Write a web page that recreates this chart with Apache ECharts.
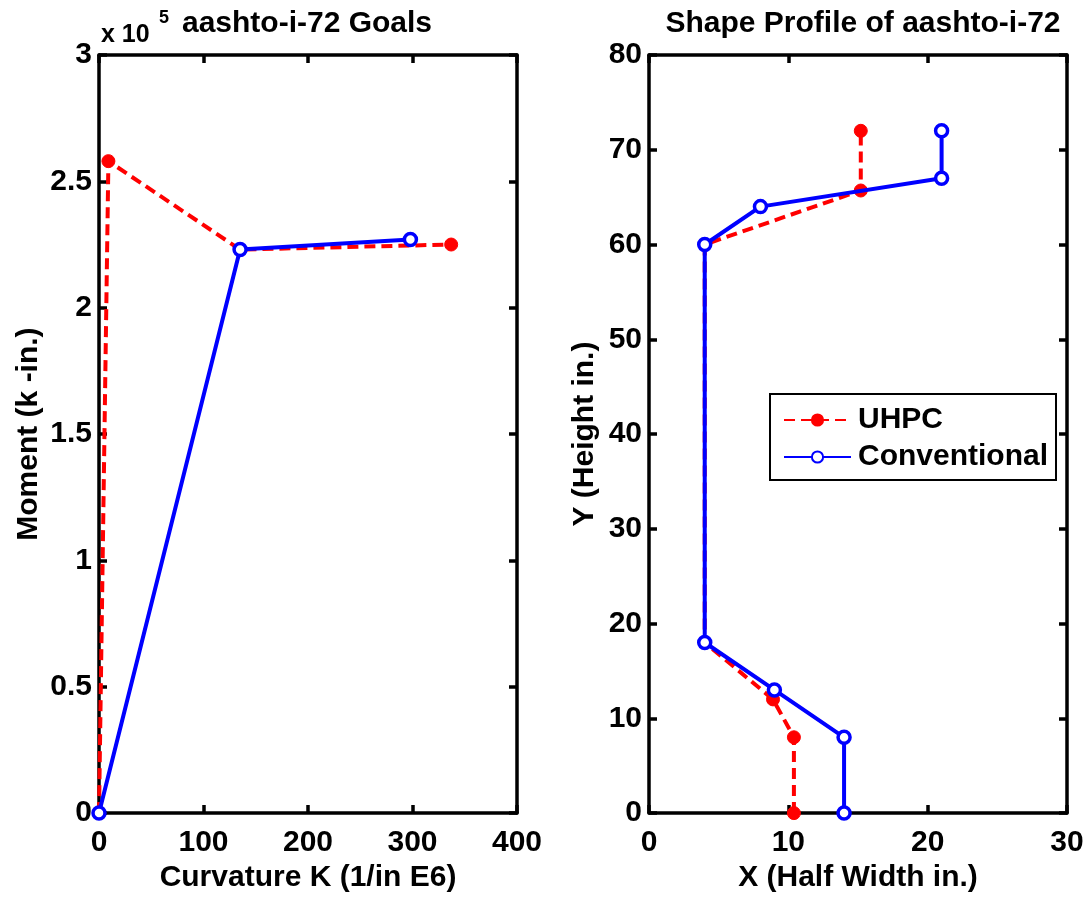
<!DOCTYPE html>
<html>
<head>
<meta charset="utf-8">
<script src="https://cdn.jsdelivr.net/npm/echarts@6/dist/echarts.min.js"></script>
<style>
  html, body { margin: 0; padding: 0; background: #fff; }
  #chart { width: 1091px; height: 898px; }
</style>
</head>
<body>
<div id="chart"></div>
<script>
// Moment-curvature goals (curvature in 1/in E6, moment in k-in.)
const momentUHPC = [[0, 0], [9, 258000], [135, 223000], [337, 225000]];
const momentConventional = [[0, 0], [135, 223000], [298, 227000]];

// Half-width section profile (x half width, y height, inches)
const shapeUHPC = [[10.4, 0], [10.4, 8], [8.9, 12], [4, 18], [4, 60], [15.2, 65.7], [15.2, 72]];
const shapeConventional = [[14, 0], [14, 8], [9, 13], [4, 18], [4, 60], [8, 64], [21, 67], [21, 72]];

const FONT = '"Liberation Sans", Arial, Helvetica, sans-serif';
const FS = 30;
const RED = '#ff0000';
const BLUE = '#0000ff';
const AXW = 3.5;

const chart = echarts.init(document.getElementById('chart'), null, { renderer: 'canvas' });

const labelStyle = { color: '#000', fontFamily: FONT, fontWeight: 'bold', fontSize: FS };

function mainAxis(extra) {
  return Object.assign({
    type: 'value',
    axisLine: { show: true, onZero: false, lineStyle: { color: '#000', width: AXW } },
    axisTick: { show: true, inside: true, length: 8, lineStyle: { color: '#000', width: AXW } },
    splitLine: { show: false },
    nameTextStyle: labelStyle
  }, extra);
}
function mirrorAxis(extra) {
  return Object.assign({
    type: 'value',
    axisLine: { show: true, onZero: false, lineStyle: { color: '#000', width: AXW } },
    axisTick: { show: true, inside: true, length: 8, lineStyle: { color: '#000', width: AXW } },
    axisLabel: { show: false },
    splitLine: { show: false }
  }, extra);
}

const uhpcStyle = {
  type: 'line', name: 'UHPC', clip: false,
  symbol: 'circle', symbolSize: 13,
  lineStyle: { color: RED, width: 4, type: [11, 6] },
  itemStyle: { color: RED, borderColor: RED, borderWidth: 1 },
  z: 2
};
const convStyle = {
  type: 'line', name: 'Conventional', clip: false,
  symbol: 'circle', symbolSize: 12,
  lineStyle: { color: BLUE, width: 4 },
  itemStyle: { color: '#fff', borderColor: BLUE, borderWidth: 3.5 },
  z: 3
};

chart.setOption({
  animation: false,
  backgroundColor: '#fff',
  textStyle: { fontFamily: FONT },
  title: [
    { text: 'aashto-i-72 Goals', left: 302, top: 4, textAlign: 'center',
      textStyle: { fontFamily: FONT, fontWeight: 'bold', fontSize: FS, color: '#000' } },
    { text: 'Shape Profile of aashto-i-72', left: 858, top: 4, textAlign: 'center',
      textStyle: { fontFamily: FONT, fontWeight: 'bold', fontSize: FS, color: '#000' } }
  ],
  graphic: [
    { type: 'text', left: 101, top: 23,
      style: { text: 'x 10', font: 'bold 25px ' + FONT, fill: '#000' } },
    { type: 'text', left: 159, top: 9,
      style: { text: '5', font: 'bold 18px ' + FONT, fill: '#000' } }
  ],
  legend: {
    left: 770, top: 394,
    orient: 'vertical',
    data: ['UHPC', 'Conventional'],
    itemWidth: 67, itemHeight: 14, itemGap: 7,
    padding: [11, 8, 8, 13],
    backgroundColor: '#fff',
    borderColor: '#000', borderWidth: 2, borderRadius: 0,
    textStyle: { fontFamily: FONT, fontWeight: 'bold', fontSize: FS, color: '#000', padding: [0, 0, 0, 2] },
    selectedMode: false
  },
  grid: [
    { left: 99, top: 55, width: 418, height: 762 },
    { left: 649, top: 55, width: 418, height: 762 }
  ],
  xAxis: [
    mainAxis({ gridIndex: 0, min: 0, max: 400, interval: 100, position: 'bottom',
      name: 'Curvature K (1/in E6)', nameLocation: 'middle', nameGap: 49,
      axisLabel: Object.assign({ margin: 15 }, labelStyle) }),
    mainAxis({ gridIndex: 1, min: 0, max: 30, interval: 10, position: 'bottom',
      name: 'X (Half Width in.)', nameLocation: 'middle', nameGap: 49,
      axisLabel: Object.assign({ margin: 15 }, labelStyle) }),
    mirrorAxis({ gridIndex: 0, min: 0, max: 400, interval: 100, position: 'top' }),
    mirrorAxis({ gridIndex: 1, min: 0, max: 30, interval: 10, position: 'top' })
  ],
  yAxis: [
    mainAxis({ gridIndex: 0, min: 0, max: 300000, interval: 50000, position: 'left',
      name: 'Moment (k -in.)', nameLocation: 'middle', nameGap: 55,
      axisLabel: Object.assign({ margin: 7, formatter: v => String(v / 100000) }, labelStyle) }),
    mainAxis({ gridIndex: 1, min: 0, max: 80, interval: 10, position: 'left',
      name: 'Y (Height in.)', nameLocation: 'middle', nameGap: 49,
      axisLabel: Object.assign({ margin: 7 }, labelStyle) }),
    mirrorAxis({ gridIndex: 0, min: 0, max: 300000, interval: 50000, position: 'right' }),
    mirrorAxis({ gridIndex: 1, min: 0, max: 80, interval: 10, position: 'right' })
  ],
  series: [
    Object.assign({}, uhpcStyle, { xAxisIndex: 0, yAxisIndex: 0, data: momentUHPC }),
    Object.assign({}, convStyle, { xAxisIndex: 0, yAxisIndex: 0, data: momentConventional }),
    Object.assign({}, uhpcStyle, { xAxisIndex: 1, yAxisIndex: 1, data: shapeUHPC }),
    Object.assign({}, convStyle, { xAxisIndex: 1, yAxisIndex: 1, data: shapeConventional })
  ]
});
</script>
</body>
</html>
